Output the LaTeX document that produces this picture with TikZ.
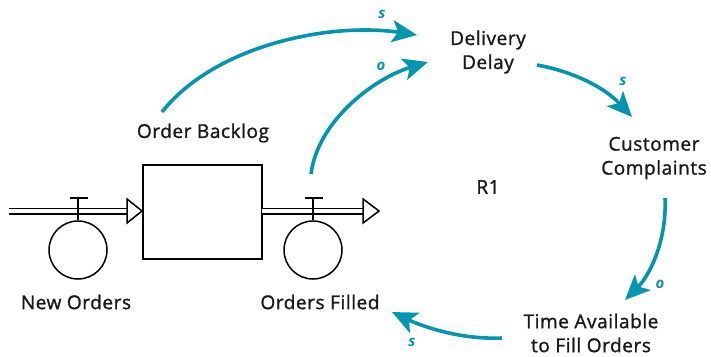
\documentclass[tikz,border=0pt]{standalone}
\usepackage{fontspec}
\setmainfont{Open Sans}
\newfontfamily\lblfont{Open Sans}[FakeBold=1.3,LetterSpace=3]
\usetikzlibrary{arrows.meta}
\definecolor{teal1}{RGB}{0,150,175}
\tikzset{
  lbl/.style={font=\lblfont\fontsize{19}{24}\selectfont, text=black!90, align=center, inner sep=0pt},
  pol/.style={font=\fontsize{15}{15}\selectfont\itshape\bfseries, text=teal1, inner sep=0pt},
  link/.style={draw=teal1, line width=3.6pt, -{Stealth[length=25pt,width=22pt,inset=6pt]}},
  pipe/.style={draw=black, double=white, double distance=4pt, line width=1.5pt},
  pipehead/.style={draw=black, fill=white, line width=1.5pt, line join=miter},
  valve/.style={draw=black, line width=1.5pt},
  stockbox/.style={draw=black, line width=2pt, minimum width=119pt, minimum height=94pt, inner sep=0pt}
}
\begin{document}
\begin{tikzpicture}[x=1pt,y=-1pt]
\useasboundingbox (0,0) rectangle (711,356);
% stock
\node[stockbox] (stock) at (202.5,212) {};
% inflow pipe
\coordinate (src) at (9,211);
\coordinate (inend) at (128,211);
\draw[pipe] (src) -- (inend);
\draw[pipehead] (127,199) -- (stock.west |- 0,211) -- (127,223) -- cycle;
% outflow pipe
\coordinate (outstart) at (262,211);
\coordinate (outend) at (364,211);
\draw[pipe] (outstart) -- (outend);
\draw[pipehead] (363,199) -- (379,211) -- (363,223) -- cycle;
% valves
\node[valve, circle, minimum size=58pt, inner sep=0pt] (v1) at (78,250) {};
\draw[valve] (v1.north) -- (78,198) (70,198) -- (88,198);
\node[valve, circle, minimum size=58pt, inner sep=0pt] (v2) at (313,250) {};
\draw[valve] (v2.north) -- (313,198) (305,198) -- (323,198);
% labels
\node[lbl] (neworders) at (76,302) {New Orders};
\node[lbl] (filled) at (320,302) {Orders Filled};
\node[lbl] (backlog) at (203,133) {Order Backlog};
\node[lbl] (delay) at (488,52) {Delivery\\Delay};
\node[lbl] (compl) at (654,158) {Customer\\Complaints};
\node[lbl] (time) at (591,333) {Time Available\\to Fill Orders};
\node[lbl] (r1) at (488,187) {R1};
% connectors
\coordinate (a1s) at (162,112);
\coordinate (a1e) at (417,35);
\draw[link] (a1s) .. controls (215,45) and (330,22) .. (a1e);
\coordinate (a2s) at (311,174);
\coordinate (a2e) at (428,62);
\draw[link] (a2s) .. controls (318,120) and (375,78) .. (a2e);
\coordinate (a3s) at (537,65);
\coordinate (a3e) at (632,117);
\draw[link] (a3s) .. controls (575,72) and (605,88) .. (a3e);
\coordinate (a4s) at (665,198);
\coordinate (a4e) at (625,300);
\draw[link] (a4s) .. controls (667,240) and (650,275) .. (a4e);
\coordinate (a5s) at (502,338);
\coordinate (a5e) at (392,312);
\draw[link] (a5s) .. controls (455,340) and (415,323) .. (a5e);
% polarities
\node[pol] at (382,14) {s};
\node[pol] at (381,66) {o};
\node[pol] at (623,81) {s};
\node[pol] at (660,284) {o};
\node[pol] at (412,342) {s};
\end{tikzpicture}
\end{document}
